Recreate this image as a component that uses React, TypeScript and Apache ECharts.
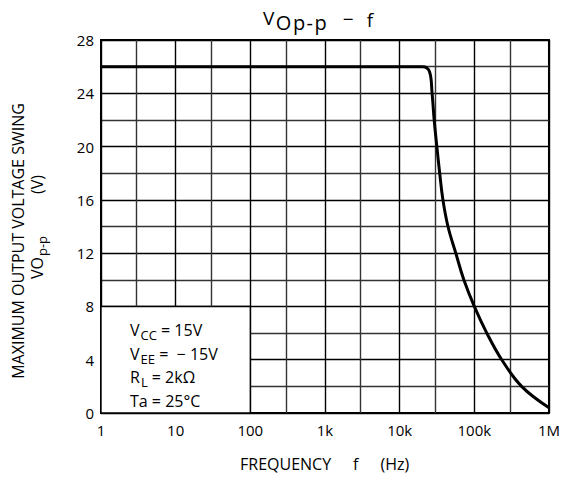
import React, { useEffect, useRef } from "react";
import * as echarts from "echarts";

// Curve: maximum output voltage swing vs frequency
const freqHz = [1, 20400, 25000, 27200, 29000, 31500, 34400, 38000, 44400, 56500, 72400, 100000, 147000, 233000, 430000, 1000000];
const voppV = [26, 26, 25.65, 24, 22, 20, 18, 16, 14, 12, 10, 8, 6, 4, 2, 0.4];

// Axis ticks
const xTickLabels = ["1", "10", "100", "1k", "10k", "100k", "1M"];
const yLabelStep = 4;
const minorFreqs = [3, 30, 300, 3000, 30000, 300000];

// Condition box (covers the grid in data units)
const boxFreqMax = 100;
const boxVMax = 8;

const FONT = "Open Sans";

const baseRich = {
  a: { fontSize: 16, fontFamily: FONT, color: "#000", lineHeight: 16 },
  s: { fontSize: 13, fontFamily: FONT, color: "#000", lineHeight: 16, padding: [9, 0, 0, 1] },
};

function rich(text: string, x: number, y: number, extraRich: any = {}, rotation = 0) {
  return {
    type: "text",
    x,
    y,
    rotation,
    z: 100,
    style: {
      text,
      fontFamily: FONT,
      fontSize: 16,
      fill: "#000",
      align: "left",
      verticalAlign: "middle",
      rich: { ...baseRich, ...extraRich },
    },
  };
}

export default function App() {
  const ref = useRef<HTMLDivElement>(null);
  useEffect(() => {
    if (!ref.current) return;
    const chart = echarts.init(ref.current, undefined, { renderer: "svg" });
    const titleSub = { fontSize: 20, fontFamily: FONT, color: "#000", padding: [9, 0, 0, 1.5] };
    const option: any = {
      animation: false,
      backgroundColor: "#fff",
      grid: {
        left: 101,
        right: 13,
        top: 40,
        bottom: 65,
        show: true,
        borderColor: "#000",
        borderWidth: 2,
        backgroundColor: "transparent",
      },
      xAxis: {
        type: "log",
        logBase: 10,
        min: 1,
        max: 1000000,
        axisLine: { show: true, lineStyle: { color: "#000", width: 2 } },
        axisTick: { show: false },
        axisLabel: {
          color: "#000",
          fontSize: 15,
          fontFamily: FONT,
          margin: 9,
          formatter: (v: number) => xTickLabels[Math.round(Math.log10(v))] ?? "",
        },
        splitLine: { show: true, lineStyle: { color: "#000", width: 1.4 } },
      },
      yAxis: {
        type: "value",
        min: 0,
        max: 28,
        interval: 2,
        axisLine: { show: true, lineStyle: { color: "#000", width: 2 } },
        axisTick: { show: false },
        axisLabel: {
          color: "#000",
          fontSize: 15,
          fontFamily: FONT,
          margin: 7,
          formatter: (v: number) => (v % yLabelStep === 0 ? String(v) : ""),
        },
        splitLine: { show: true, lineStyle: { color: ["#000", "#333"], width: 1.4 } },
      },
      series: [
        {
          type: "line",
          data: [],
          z: 1,
          silent: true,
          markArea: {
            silent: true,
            itemStyle: { color: "#fff", opacity: 1, borderColor: "#000", borderWidth: 1.4 },
            data: [[{ coord: [1, 0] }, { coord: [boxFreqMax, boxVMax] }]],
          },
          markLine: {
            silent: true,
            symbol: "none",
            label: { show: false },
            lineStyle: { color: "#333", width: 1.4, type: "solid" },
            data: minorFreqs.map((f) => [
              { coord: [f, f < boxFreqMax ? boxVMax : 0] },
              { coord: [f, 28] },
            ]),
          },
        },
        {
          type: "line",
          z: 5,
          data: freqHz.map((f, i) => [f, voppV[i]]),
          smooth: 0.4,
          symbol: "none",
          lineStyle: { color: "#000", width: 3 },
        },
      ],
      graphic: [
        // title
        rich("{v|V}{t|O}{t|p}{t|-}{t|p}{m|−}{f|f}", 263, 18, {
          v: { fontSize: 19, fontFamily: FONT, color: "#000" },
          t: titleSub,
          m: { fontSize: 19, fontFamily: FONT, color: "#000", padding: [2, 0, 0, 16] },
          f: { fontSize: 19, fontFamily: FONT, color: "#000", padding: [4, 0, 0, 13] },
        }),
        // condition box text
        rich("{a|V}{s|CC}{a| = 15V}", 130, 330),
        rich("{a|V}{s|EE}{a| =  − 15V}", 130, 354),
        rich("{a|R}{s|L}{a| = 2kΩ}", 130, 377),
        rich("{a|Ta = 25°C}", 130, 401),
        // x axis name
        rich("{a|FREQUENCY}{g|f}{g|(Hz)}", 240, 464, {
          g: { fontSize: 16, fontFamily: FONT, color: "#000", padding: [0, 0, 0, 22] },
        }),
        // y axis name
        {
          type: "text",
          x: 18,
          y: 241,
          rotation: Math.PI / 2,
          z: 100,
          style: {
            text: "MAXIMUM OUTPUT VOLTAGE SWING",
            fontSize: 16,
            fontFamily: FONT,
            fill: "#000",
            align: "center",
            verticalAlign: "middle",
          },
        },
        rich(
          "{a|VO}{s|p-p}{v|(V)}",
          37,
          279,
          { v: { fontSize: 16, fontFamily: FONT, color: "#000", padding: [0, 0, 0, 42] } },
          Math.PI / 2
        ),
      ],
    };
    chart.setOption(option);
    return () => chart.dispose();
  }, []);
  return (
    <div
      ref={ref}
      style={{ position: "fixed", left: 0, top: 0, width: 563, height: 478, background: "#fff" }}
    />
  );
}
